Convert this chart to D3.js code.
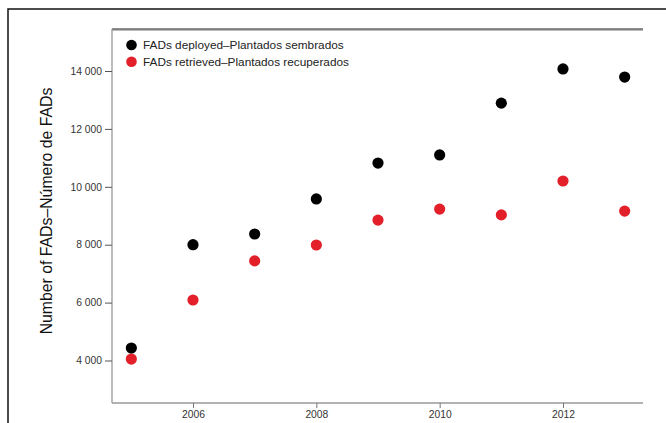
<!DOCTYPE html>
<html>
<head>
<meta charset="utf-8">
<script src="https://cdn.jsdelivr.net/npm/d3@7"></script>
<style>
  html, body { margin: 0; padding: 0; background: #fff; }
  svg { display: block; font-family: "Liberation Sans", Arial, sans-serif; }
</style>
</head>
<body>
<svg id="chart" width="666" height="423"></svg>
<script>
// FAD counts per year
const years = [2005, 2006, 2007, 2008, 2009, 2010, 2011, 2012, 2013];
const deployed = [4430, 8000, 8370, 9580, 10820, 11100, 12890, 14070, 13790];
const retrieved = [4050, 6090, 7440, 7990, 8850, 9230, 9030, 10200, 9160];
const xTicks = [2006, 2008, 2010, 2012];
const yTicks = [4000, 6000, 8000, 10000, 12000, 14000];
const seriesNames = ["FADs deployed\u2013Plantados sembrados", "FADs retrieved\u2013Plantados recuperados"];
const seriesColors = ["#000000", "#e3202a"];
const yTitle = "Number of FADs\u2013N\u00famero de FADs";

const svg = d3.select("#chart");
const plotL = 112, plotR = 643, plotT = 29, plotB = 403;

const x = d3.scaleLinear().domain([2006, 2012]).range([193, 563]);
const y = d3.scaleLinear().domain([4000, 14000]).range([360.5, 71]);

// outer frame
svg.append("rect")
  .attr("x", 8).attr("y", 9).attr("width", 700).attr("height", 500)
  .attr("fill", "none").attr("stroke", "#111").attr("stroke-width", 1.5);

// top rule of the plot box
svg.append("line")
  .attr("x1", plotL).attr("x2", plotR).attr("y1", plotT + 1.2).attr("y2", plotT + 1.2)
  .attr("stroke", "#aaa").attr("stroke-width", 1.2);
svg.append("line")
  .attr("x1", plotL).attr("x2", plotR).attr("y1", plotT).attr("y2", plotT)
  .attr("stroke", "#222").attr("stroke-width", 1.2);

// y axis
const yAxis = svg.append("g")
  .attr("transform", `translate(${plotL},0)`)
  .call(d3.axisLeft(y).tickValues(yTicks).tickSize(7).tickPadding(3)
    .tickFormat(d => d3.format(",")(d).replace(",", " ")));
yAxis.select(".domain").attr("d", `M0,${plotT}V${plotB}`).attr("stroke", "#999").attr("stroke-width", 1.3);
yAxis.selectAll(".tick line").attr("stroke", "#555");
yAxis.selectAll(".tick text").attr("fill", "#333").style("font-size", "10.3px");

// x axis
const xAxis = svg.append("g")
  .attr("transform", `translate(0,${plotB})`)
  .call(d3.axisBottom(x).tickValues(xTicks).tickSize(5).tickPadding(3).tickFormat(d3.format("d")));
xAxis.select(".domain").attr("d", `M${plotL},0H${plotR}`).attr("stroke", "#999").attr("stroke-width", 1.3);
xAxis.selectAll(".tick line").attr("stroke", "#777");
xAxis.selectAll(".tick text").attr("fill", "#333").style("font-size", "10.3px");

// y axis title
svg.append("text")
  .attr("transform", `translate(52,211) rotate(-90)`)
  .attr("text-anchor", "middle")
  .attr("fill", "#111")
  .style("font-size", "15.8px")
  .text(yTitle);

// points
[deployed, retrieved].forEach((vals, i) => {
  svg.append("g").selectAll("circle")
    .data(years.map((yr, k) => [yr, vals[k]]))
    .join("circle")
    .attr("cx", d => x(d[0]))
    .attr("cy", d => y(d[1]))
    .attr("r", 5.6)
    .attr("fill", seriesColors[i]);
});

// legend
const legend = svg.append("g");
seriesNames.forEach((name, i) => {
  const ly = 45 + i * 16.8;
  legend.append("circle").attr("cx", 131.5).attr("cy", ly).attr("r", 5.3).attr("fill", seriesColors[i]);
  legend.append("text").attr("x", 143).attr("y", ly + 4.3)
    .attr("fill", "#222").style("font-size", "11.8px").text(name);
});
</script>
</body>
</html>
